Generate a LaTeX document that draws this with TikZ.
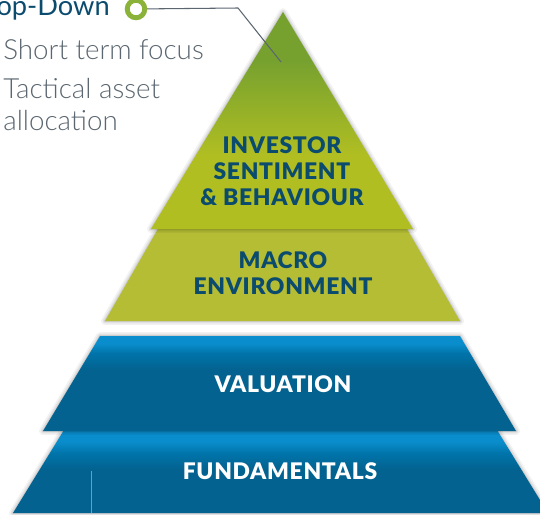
\documentclass[tikz,border=0pt]{standalone}
\usepackage{fontspec}
\setmainfont{Lato}
\newfontfamily\heavyfont[LetterSpace=3]{Lato Black}
\newfontfamily\lightfont{Lato Light}
\usetikzlibrary{positioning}

\definecolor{topgreen}{HTML}{76A12F}
\definecolor{midgreen}{HTML}{B0BE22}
\definecolor{macrogreen}{HTML}{B5BD35}
\definecolor{bluelight}{HTML}{0A8DCC}
\definecolor{bluemid}{HTML}{0074AA}
\definecolor{bluedark}{HTML}{03628F}
\definecolor{labelblue}{HTML}{0B4B6E}
\definecolor{notegray}{HTML}{5B6670}
\definecolor{dotgreen}{HTML}{8BB33A}

\pgfdeclareverticalshading{greenlayer}{100bp}{color(0bp)=(midgreen); color(25bp)=(midgreen); color(42bp)=(midgreen); color(64bp)=(topgreen); color(100bp)=(topgreen)}
\pgfdeclareverticalshading{valuelayer}{100bp}{color(0bp)=(bluedark); color(57bp)=(bluedark); color(66bp)=(bluemid); color(71bp)=(bluelight); color(100bp)=(bluelight)}
\pgfdeclareverticalshading{fundlayer}{100bp}{color(0bp)=(bluedark); color(51bp)=(bluedark); color(61bp)=(bluemid); color(68bp)=(bluelight); color(100bp)=(bluelight)}

\begin{document}
\begin{tikzpicture}[x=0.02cm, y=-0.02cm,
  layer/.style={preaction={draw=black, opacity=0.05, line width=4.5pt, line join=round},
    preaction={draw=black, opacity=0.07, line width=2.6pt, line join=round},
    preaction={draw=black, opacity=0.09, line width=1pt, line join=round}},
  tier/.style={font=\fontsize{13}{14.8}\selectfont\heavyfont, align=center},
  note/.style={font=\fontsize{15.8}{18}\selectfont\lightfont, text=notegray, align=left, inner sep=0pt},
  callout/.style={draw=notegray, line width=0.6pt}]
\useasboundingbox (0,0) rectangle (540,514);

\shade[layer, shading=fundlayer] (64,430) -- (497,430) -- (548,513) -- (13,513) -- cycle;
\draw[notegray!70, line width=0.4pt] (91,471) -- (91,513);
\shade[layer, shading=valuelayer] (100,336) -- (460,336) -- (516,431) -- (43,431) -- cycle;
\fill[layer, macrogreen] (158,229) -- (407,229) -- (460,321) -- (105,321) -- cycle;
\shade[layer, shading=greenlayer] (283,12) -- (413,229) -- (151,229) -- cycle;

\node[tier, text=labelblue] (investor) at (282,171) {INVESTOR\\SENTIMENT\\\& BEHAVIOUR};
\node[tier, text=labelblue] (macro) at (283,273) {MACRO\\ENVIRONMENT};
\node[tier, text=white] (valuation) at (283,384) {VALUATION};
\node[tier, text=white] (fundamentals) at (280,471) {FUNDAMENTALS};

\node[font=\fontsize{15.5}{18}\selectfont, text=labelblue, anchor=east, inner sep=0pt] (topdown) at (110,8) {Top-Down};
\node[circle, draw=dotgreen, fill=white, line width=2.8pt, minimum size=10pt, inner sep=0pt] (topdot) at (136,9) {};
\coordinate (bend) at (238,8);
\coordinate (toptip) at (281,62);
\draw[callout] (topdot) -- (bend) -- (toptip);

\node[note, anchor=west] (shortterm) at (3,50) {Short term focus};
\node[note, anchor=north west] (tactical) at (3,78) {Tactical asset\\allocation};
\end{tikzpicture}
\end{document}
